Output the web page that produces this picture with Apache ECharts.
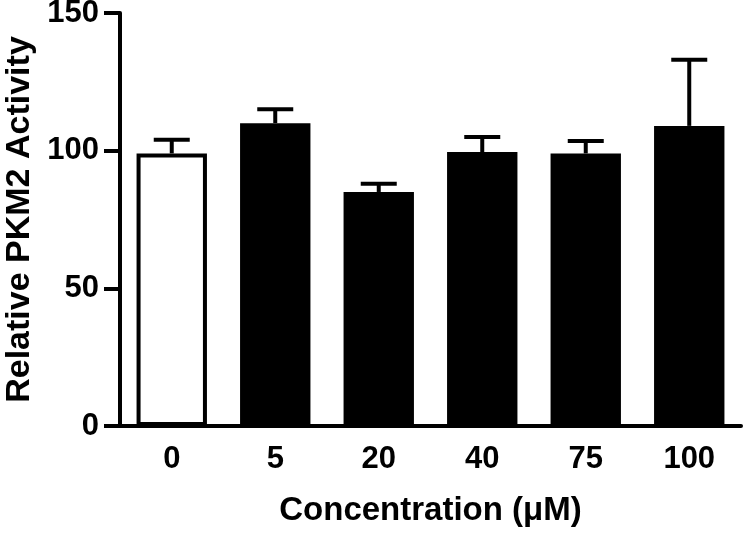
<!DOCTYPE html>
<html>
<head>
<meta charset="utf-8">
<script src="https://cdn.jsdelivr.net/npm/echarts@6/dist/echarts.min.js"></script>
<style>
  html, body { margin: 0; padding: 0; background: #fff; }
  #chart { width: 750px; height: 540px; }
</style>
</head>
<body>
<div id="chart"></div>
<script>
// data
var concentrations = ['0', '5', '20', '40', '75', '100']
var meanActivity = [99, 110, 85, 99.5, 99, 109]
var errorTop = [104, 115, 88, 105, 103.5, 133]
var yTicks = [0, 50, 100, 150]

var font = '"Liberation Sans", Arial, sans-serif'

var barData = meanActivity.map(function (v, i) {
  if (i === 0) {
    return { value: v, itemStyle: { color: '#fff', borderColor: '#000', borderWidth: 4 } }
  }
  return { value: v, itemStyle: { color: '#000' } }
})

var errData = meanActivity.map(function (v, i) {
  return [i, v, errorTop[i]]
})

function renderError(params, api) {
  var base = api.coord([api.value(0), api.value(1)])
  var top = api.coord([api.value(0), api.value(2)])
  var half = 18
  var style = { stroke: '#000', lineWidth: 4 }
  return {
    type: 'group',
    children: [
      { type: 'line', shape: { x1: base[0], y1: base[1], x2: top[0], y2: top[1] }, style: style },
      { type: 'line', shape: { x1: top[0] - half, y1: top[1], x2: top[0] + half, y2: top[1] }, style: style }
    ]
  }
}

var myChart = echarts.init(document.getElementById('chart'))
myChart.setOption({
  animation: false,
  backgroundColor: '#fff',
  grid: { left: 120, right: 9, top: 13, bottom: 114, containLabel: false, outerBoundsMode: 'none' },
  xAxis: {
    type: 'category',
    data: concentrations,
    name: 'Concentration (μM)',
    nameLocation: 'middle',
    nameGap: 68,
    nameTextStyle: { fontFamily: font, fontWeight: 'bold', fontSize: 33, color: '#000' },
    axisLine: { lineStyle: { color: '#000', width: 4 } },
    axisTick: { alignWithLabel: true, length: 13, lineStyle: { color: '#000', width: 4 } },
    axisLabel: { fontFamily: font, fontWeight: 'bold', fontSize: 31, color: '#000', margin: 18 }
  },
  yAxis: {
    type: 'value',
    min: yTicks[0],
    max: yTicks[yTicks.length - 1],
    interval: 50,
    name: 'Relative PKM2 Activity',
    nameLocation: 'middle',
    nameGap: 80,
    nameTextStyle: { fontFamily: font, fontWeight: 'bold', fontSize: 34, color: '#000' },
    axisLine: { show: true, lineStyle: { color: '#000', width: 4 } },
    axisTick: { show: true, length: 16, lineStyle: { color: '#000', width: 4 } },
    axisLabel: { fontFamily: font, fontWeight: 'bold', fontSize: 31, color: '#000', margin: 21 },
    splitLine: { show: false }
  },
  series: [
    {
      type: 'bar',
      data: barData,
      barWidth: '68%',
      z: 2
    },
    {
      type: 'custom',
      data: errData,
      renderItem: renderError,
      z: 1
    }
  ]
})
</script>
</body>
</html>
